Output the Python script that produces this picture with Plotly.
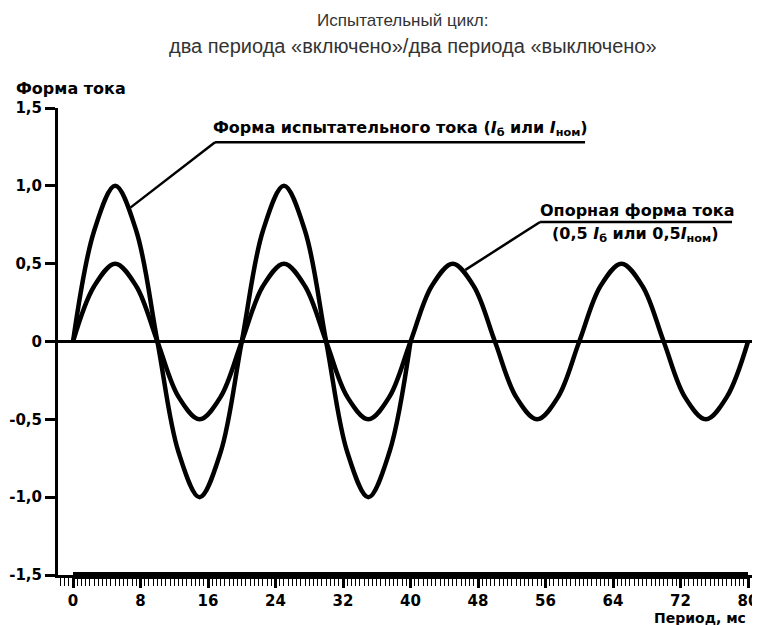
import plotly.graph_objects as go

# ---- data (time in ms, current in per-unit) ----
t_test = [0, 2.5, 5, 7.5, 10, 12.5, 15, 17.5, 20, 22.5, 25, 27.5, 30, 32.5, 35, 37.5, 40]
i_test = [0, 0.71, 1.0, 0.71, 0, -0.71, -1.0, -0.71, 0, 0.71, 1.0, 0.71, 0, -0.71, -1.0, -0.71, 0]

t_ref = [0, 2.5, 5, 7.5, 10, 12.5, 15, 17.5, 20, 22.5, 25, 27.5, 30, 32.5, 35, 37.5, 40,
         42.5, 45, 47.5, 50, 52.5, 55, 57.5, 60, 62.5, 65, 67.5, 70, 72.5, 75, 77.5, 80]
i_ref = [0, 0.355, 0.5, 0.355, 0, -0.355, -0.5, -0.355, 0, 0.355, 0.5, 0.355, 0, -0.355, -0.5, -0.355, 0,
         0.355, 0.5, 0.355, 0, -0.355, -0.5, -0.355, 0, 0.355, 0.5, 0.355, 0, -0.355, -0.5, -0.355, 0]

x_ticks = [0, 8, 16, 24, 32, 40, 48, 56, 64, 72, 80]
y_ticks = [-1.5, -1.0, -0.5, 0, 0.5, 1.0, 1.5]
y_ticklabels = ["-1,5", "-1,0", "-0,5", "0", "0,5", "1,0", "1,5"]

title_1 = "Испытательный цикл:"
title_2 = "два периода «включено»/два периода «выключено»"
y_title = "Форма тока"
x_title = "Период, мс"
label_test = "Форма испытательного тока (<i>I</i><sub>б</sub> или <i>I</i><sub>ном</sub>)"
label_ref_1 = "Опорная форма тока"
label_ref_2 = "(0,5 <i>I</i><sub>б</sub> или 0,5<i>I</i><sub>ном</sub>)"

FONT = "Liberation Sans, Arial, sans-serif"
BFONT = "DejaVu Sans, sans-serif"
BOLD = dict(family=BFONT, size=16, color="black", weight="bold")
TICKF = dict(family=BFONT, size=15, color="black", weight="bold")

fig = go.Figure()
fig.add_trace(go.Scatter(x=t_ref, y=i_ref, mode="lines",
                         line=dict(color="black", width=4.5, shape="spline"),
                         hoverinfo="skip", showlegend=False))
fig.add_trace(go.Scatter(x=t_test, y=i_test, mode="lines",
                         line=dict(color="black", width=4.5, shape="spline"),
                         hoverinfo="skip", showlegend=False))

fig.update_layout(
    width=760, height=625,
    margin=dict(l=50, r=16, t=100, b=58),
    paper_bgcolor="white", plot_bgcolor="white",
    showlegend=False,
    font=dict(family=FONT, color="black"),
    xaxis=dict(range=[-1.78, 80.47], showgrid=False, zeroline=False, automargin=False,
               showline=True, linecolor="black", linewidth=2.5,
               ticks="outside", ticklen=10, tickwidth=2.5, tickcolor="black",
               tickvals=x_ticks, ticktext=[str(v) for v in x_ticks],
               tickfont=TICKF,
               minor=dict(dtick=0.5, tick0=0, ticks="outside", ticklen=8,
                          tickwidth=1.3, tickcolor="black", showgrid=False)),
    yaxis=dict(range=[-1.5, 1.5], showgrid=False, automargin=False,
               zeroline=True, zerolinecolor="black", zerolinewidth=3,
               showline=True, linecolor="black", linewidth=3,
               ticks="outside", ticklen=10, tickwidth=2.5, tickcolor="black",
               tickvals=y_ticks, ticktext=y_ticklabels, tickfont=TICKF),
)

# thick band of the time axis from 0 to 80 ms
fig.add_shape(type="rect", xref="x", yref="paper", x0=0, x1=80, y0=-0.0086, y1=0.0064,
              fillcolor="black", line=dict(width=0), layer="above")

# annotation underline + leader lines
LW = 2.5
fig.add_shape(type="line", xref="x", yref="y", x0=16.83, x1=60.68, y0=1.28, y1=1.28,
              line=dict(color="black", width=LW))
fig.add_shape(type="line", xref="x", yref="y", x0=16.83, x1=6.8, y0=1.28, y1=0.86,
              line=dict(color="black", width=LW))
fig.add_shape(type="line", xref="x", yref="y", x0=55.35, x1=78.1, y0=0.768, y1=0.768,
              line=dict(color="black", width=LW))
fig.add_shape(type="line", xref="x", yref="y", x0=55.35, x1=46.5, y0=0.768, y1=0.46,
              line=dict(color="black", width=LW))

fig.add_annotation(x=38.76, y=1.28, xref="x", yref="y", text=label_test, showarrow=False,
                   xanchor="center", yanchor="bottom", yshift=1, font=BOLD)
fig.add_annotation(x=66.8, y=0.768, xref="x", yref="y", text=label_ref_1, showarrow=False,
                   xanchor="center", yanchor="bottom", yshift=0, font=BOLD)
fig.add_annotation(x=66.6, y=0.768, xref="x", yref="y", text=label_ref_2, showarrow=False,
                   xanchor="center", yanchor="top", yshift=0, font=BOLD)

# titles
fig.add_annotation(x=0.4957, y=1.188, xref="paper", yref="paper", text=title_1, showarrow=False,
                   xanchor="center", yanchor="middle",
                   font=dict(family=FONT, size=17, color="#333333"))
fig.add_annotation(x=0.511, y=1.133, xref="paper", yref="paper", text=title_2, showarrow=False,
                   xanchor="center", yanchor="middle",
                   font=dict(family=FONT, size=20, color="#333333"))
fig.add_annotation(x=-0.0634, y=1.0428, xref="paper", yref="paper", text=y_title, showarrow=False,
                   xanchor="left", yanchor="middle", font=BOLD)
fig.add_annotation(x=1, y=-0.092, xref="paper", yref="paper", text=x_title, showarrow=False,
                   xanchor="right", yanchor="middle", xshift=-4,
                   font=dict(family=BFONT, size=14, color="black", weight="bold"))

fig.write_html("out.html")
